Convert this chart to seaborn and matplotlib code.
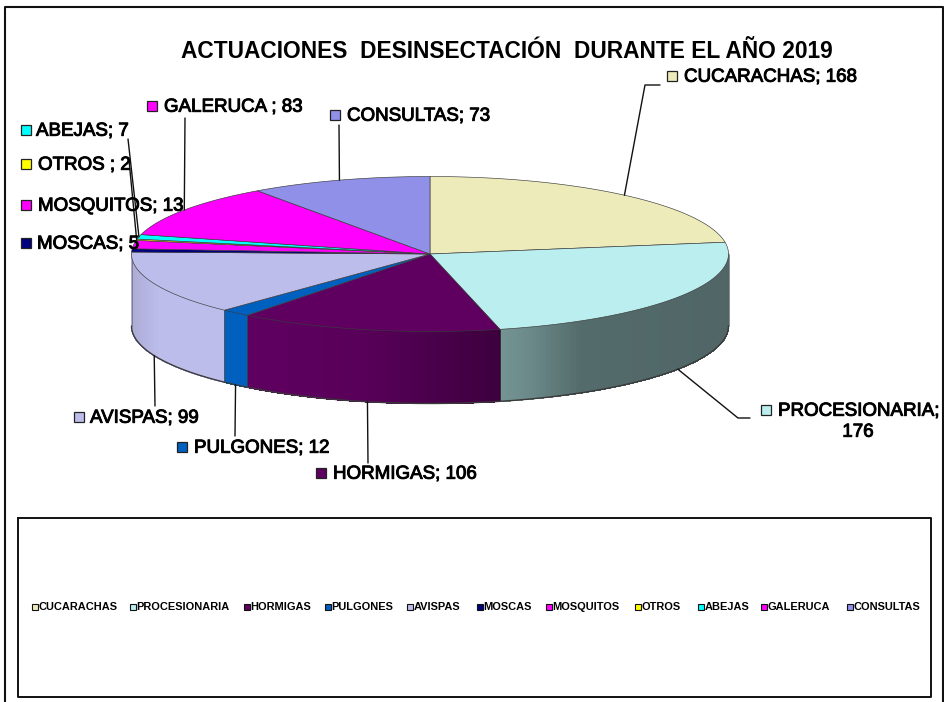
import numpy as np
import matplotlib
matplotlib.use("Agg")
import matplotlib.pyplot as plt
import matplotlib.patheffects as pe
from matplotlib.colors import to_rgb
import seaborn as sns

# ---- data ----
title = "ACTUACIONES  DESINSECTACIÓN  DURANTE EL AÑO 2019"
categories = ["CUCARACHAS", "PROCESIONARIA", "HORMIGAS", "PULGONES", "AVISPAS", "MOSCAS",
              "MOSQUITOS", "OTROS", "ABEJAS", "GALERUCA", "CONSULTAS"]
values = [168, 176, 106, 12, 99, 5, 13, 2, 7, 83, 73]
point_labels = ["CUCARACHAS; 168", "PROCESIONARIA;\n176", "HORMIGAS; 106", "PULGONES; 12",
                "AVISPAS; 99", "MOSCAS; 5", "MOSQUITOS; 13", "OTROS ; 2", "ABEJAS; 7",
                "GALERUCA ; 83", "CONSULTAS; 73"]

# ---- style / layout (pixels of the picture) ----
sns.set_theme(style="white")
plt.rcParams["font.family"] = ["Liberation Sans", "DejaVu Sans"]
colors = sns.color_palette(["#EEEBBB", "#BBEEEE", "#5F0060", "#0060C0", "#BDBDEB", "#000080",
                            "#FF00FF", "#FFFF00", "#00FFFF", "#FF00FF", "#9090E8"])
# side-wall shade along x: (fraction of slice width, brightness factor)
side_shade = {
    "PROCESIONARIA": [(0, .62), (.12, .58), (.35, .45), (1, .43)],
    "HORMIGAS": [(0, 1.0), (.45, .93), (1, .64)],
    "PULGONES": [(0, 1.0), (1, 1.0)],
    "AVISPAS": [(0, .91), (.3, 1.0), (1, 1.0)],
}
CX, CY, RX, RY, DEPTH = 430, 254, 298.5, 77.5, 72
label_pos = {  # square marker x, text x, text y
    "CUCARACHAS": (672, 684, 76), "PROCESIONARIA": (766, 778, 410), "HORMIGAS": (321, 333, 473),
    "PULGONES": (182, 194, 447), "AVISPAS": (79, 90, 417), "MOSCAS": (26, 37, 243),
    "MOSQUITOS": (26, 38, 205), "OTROS": (26, 38, 164), "ABEJAS": (26, 36, 130),
    "GALERUCA": (152, 164, 106), "CONSULTAS": (335, 347, 115),
}
TEXT_DY = 1.2
leaders = {  # path from the slice to the label
    "CUCARACHAS": [(645, 85), (660, 85)], "PROCESIONARIA": [(738, 418), (750, 418)],
    "HORMIGAS": [(368, 463)], "PULGONES": [(235, 436)], "AVISPAS": [(155, 406)],
    "GALERUCA": [(185, 118)], "CONSULTAS": [(339, 125)], "ABEJAS": [(128, 139)], "OTROS": [(129, 160)],
}
legend_x = [35, 133, 247, 328, 410, 480, 548.5, 638, 701, 764, 850]

fig = plt.figure(figsize=(9.45, 7.02), dpi=100)
ax = fig.add_axes([0, 0, 1, 1])
ax.set_xlim(0, 945)
ax.set_ylim(702, 0)
ax.axis("off")

total = sum(values)
edges = np.concatenate([[0], np.cumsum(values)]) / total * 360.0


def rim(deg, dy=0.0):
    t = np.radians(deg)
    return CX + RX * np.sin(t), CY - RY * np.cos(t) + dy


EDGE = "#3a3a3a"
# side walls
for name, col, a, b in zip(categories, colors, edges[:-1], edges[1:]):
    lo, hi = max(a, 90), min(b, 270)
    if lo >= hi:
        continue
    angs = np.linspace(lo, hi, int((hi - lo) * 2) + 2)
    xs = rim(angs)[0]
    xmin, xmax = xs.min(), xs.max()
    stops = side_shade.get(name, [(0, 1), (1, 1)])
    for a0, a1 in zip(angs[:-1], angs[1:]):
        xm = rim((a0 + a1) / 2)[0]
        f = np.interp((xm - xmin) / (xmax - xmin), [s[0] for s in stops], [s[1] for s in stops])
        c = tuple(np.clip(np.array(to_rgb(col)) * f, 0, 1))
        x0, y0 = rim(a0)
        x1, y1 = rim(a1)
        ax.fill([x0, x1, x1, x0], [y0, y1, y1 + DEPTH, y0 + DEPTH], color=c, lw=0.5,
                antialiased=False, zorder=2)
    for edge_ang in (lo, hi):
        if 90 < edge_ang < 270:
            x0, y0 = rim(edge_ang)
            ax.plot([x0, x0], [y0, y0 + DEPTH], color=EDGE, lw=0.4, zorder=3)

# outer wall outlines
arc = np.linspace(90, 270, 300)
ax.plot(*rim(arc, DEPTH), color=EDGE, lw=1.0, zorder=3)
for ang in (90, 270):
    x0, y0 = rim(ang)
    ax.plot([x0, x0], [y0, y0 + DEPTH], color="#777777", lw=0.6, zorder=3)

# top face
for col, a, b in zip(colors, edges[:-1], edges[1:]):
    angs = np.linspace(a, b, max(int(b - a) * 2, 3))
    x, y = rim(angs)
    ax.fill(np.r_[CX, x], np.r_[CY, y], facecolor=col, edgecolor=EDGE, lw=0.45, zorder=4)

# leader lines and labels
halo = [pe.withStroke(linewidth=0.7, foreground="black")]
for name, col, a, b, lab in zip(categories, colors, edges[:-1], edges[1:], point_labels):
    mid = (a + b) / 2
    x0, y0 = rim(mid, DEPTH if 90 < mid < 270 else 0)
    if name in leaders:
        pts = [(x0, y0)] + leaders[name]
        ax.plot([p[0] for p in pts], [p[1] for p in pts], color="#111111", lw=1.0, zorder=5)
    mx, tx, ty = label_pos[name]
    ax.plot(mx, ty, marker="s", ms=7.5, mfc=col, mec="#222222", mew=0.9, zorder=7, ls="none")
    if "\n" in lab:
        first, second = lab.split("\n")
        ax.text(tx, ty + TEXT_DY, first, fontsize=13.5, va="center", ha="left", color="black",
                path_effects=halo, zorder=8)
        ax.text(858, ty + 21 + TEXT_DY, second, fontsize=13.5, va="center", ha="center", color="black",
                path_effects=halo, zorder=8)
    else:
        ax.text(tx, ty + TEXT_DY, lab, fontsize=13.5, va="center", ha="left", color="black",
                path_effects=halo, zorder=8)

# title
ax.text(507, 51.5, title, fontsize=16.4, fontweight="bold", ha="center", va="center", color="black")

# legend box and entries
ax.plot([18, 931, 931, 18, 18], [518, 518, 697, 697, 518], color="#111111", lw=1.4, zorder=1)
for name, col, lx in zip(categories, colors, legend_x):
    ax.plot(lx, 607, marker="s", ms=4.2, mfc=col, mec="#111111", mew=0.8, ls="none", zorder=3)
    ax.text(lx + 3.5, 607, name, fontsize=7.9, fontweight="bold", ha="left", va="center",
            color="black", zorder=3)

# chart outer frame (open at the bottom)
ax.plot([5, 5, 943, 943], [702, 7, 7, 702], color="#111111", lw=1.5, zorder=1)

fig.savefig("out.png", dpi=100, facecolor="white")
